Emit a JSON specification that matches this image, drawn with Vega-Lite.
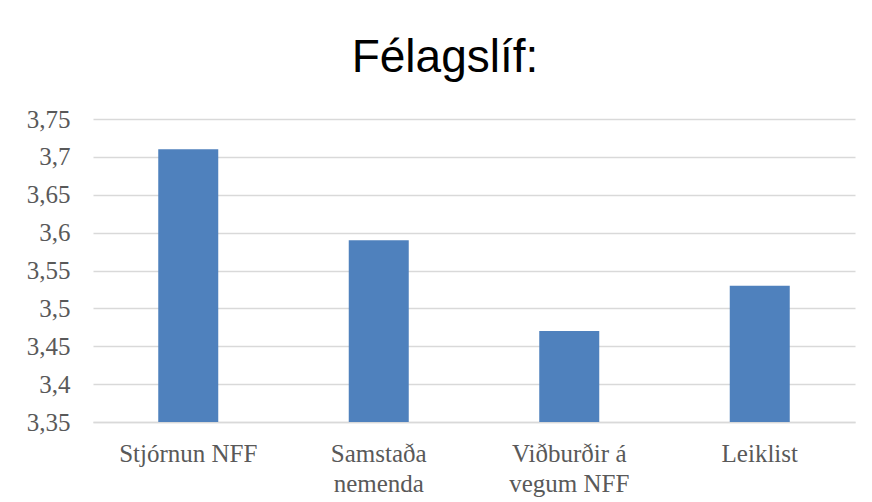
{
  "$schema": "https://vega.github.io/schema/vega-lite/v6.json",
  "width": 762,
  "height": 303,
  "autosize": {"type": "none"},
  "padding": {"left": 93, "top": 119, "right": 17, "bottom": 80},
  "background": "white",
  "title": {
    "text": "Félagslíf:",
    "font": "Liberation Sans",
    "fontSize": 46,
    "fontWeight": "normal",
    "color": "#000000",
    "anchor": "middle",
    "frame": "group",
    "dx": -29,
    "dy": 55,
    "baseline": "alphabetic",
    "offset": 44
  },
  "data": {
    "values": [
      {"flokkur": "Stjórnun NFF", "gildi": 3.71},
      {"flokkur": "Samstaða nemenda", "gildi": 3.59},
      {"flokkur": "Viðburðir á vegum NFF", "gildi": 3.47},
      {"flokkur": "Leiklist", "gildi": 3.53}
    ]
  },
  "mark": {"type": "bar", "color": "#4f81bd"},
  "encoding": {
    "x": {
      "field": "flokkur",
      "type": "nominal",
      "sort": null,
      "title": null,
      "scale": {"paddingInner": 0.685, "paddingOuter": 0.3425},
      "axis": {
        "labelAngle": 0,
        "labelFont": "Liberation Serif",
        "labelFontSize": 25,
        "labelColor": "#595959",
        "labelPadding": 19,
        "labelLineHeight": 30,
        "labelBaseline": "top",
        "ticks": false,
        "domain": true,
        "domainColor": "#d9d9d9",
        "domainWidth": 1.5,
        "labelExpr": "datum.label == 'Samstaða nemenda' ? ['Samstaða', 'nemenda'] : datum.label == 'Viðburðir á vegum NFF' ? ['Viðburðir á', 'vegum NFF'] : datum.label"
      }
    },
    "y": {
      "field": "gildi",
      "type": "quantitative",
      "title": null,
      "scale": {"domain": [3.35, 3.75], "zero": false, "nice": false},
      "axis": {
        "values": [3.35, 3.4, 3.45, 3.5, 3.55, 3.6, 3.65, 3.7, 3.75],
        "labelExpr": "replace(format(datum.value, '.2~f'), '.', ',')",
        "labelFont": "Liberation Serif",
        "labelFontSize": 25,
        "labelColor": "#595959",
        "labelPadding": 23,
        "ticks": false,
        "domain": false,
        "grid": true,
        "gridColor": "#d9d9d9",
        "gridWidth": 1.5
      }
    },
    "y2": {"datum": 3.35}
  },
  "config": {"view": {"stroke": null}}
}
